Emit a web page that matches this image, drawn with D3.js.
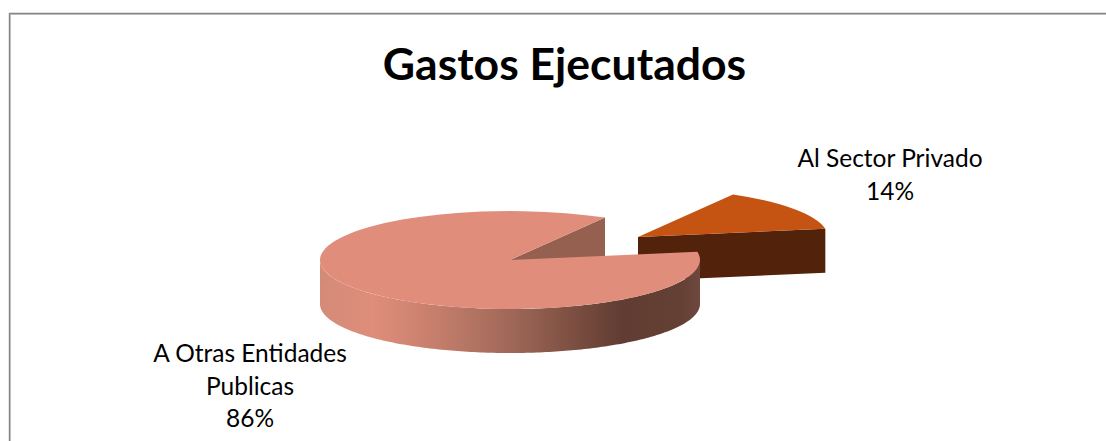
<!DOCTYPE html>
<html>
<head>
<meta charset="utf-8">
<script src="https://cdn.jsdelivr.net/npm/d3@7"></script>
<style>
  html, body { margin: 0; padding: 0; background: #fff; }
  svg { display: block; }
  text { font-family: Lato, "Open Sans", sans-serif; fill: #000; text-anchor: middle; }
</style>
</head>
<body>
<svg></svg>
<script>
var width = 1106;
var height = 441;

var title = "Gastos Ejecutados";
var categories = ["Al Sector Privado", "A Otras Entidades Publicas"];
var values = [14, 86];

var svg = d3.select("svg").attr("width", width).attr("height", height);
var defs = svg.append("defs");

// chart frame, only left and top show, the rest is cropped
svg.append("path")
    .attr("d", "M10.5,441V14.5H1106")
    .attr("fill", "none")
    .attr("stroke", "#cfcfcf")
    .attr("stroke-width", 1);
svg.append("path")
    .attr("d", "M9.5,441V13.5H1106")
    .attr("fill", "none")
    .attr("stroke", "#858585")
    .attr("stroke-width", 1.4);

var cx = 510, cy = 260, rx = 190, ry = 49, depth = 44;
var explodeX = 128, explodeY = -23;
var deg = Math.PI / 180;

var pie = d3.pie().sort(null).startAngle(30 * deg).endAngle(390 * deg);
var slices = pie(values);
var small = slices[0];
var big = slices[1];

function px(a) { return rx * Math.sin(a); }
function py(a) { return -ry * Math.cos(a); }

var arc = d3.arc().innerRadius(0).outerRadius(rx);

// top of a slice, circular arc squashed into the ellipse
function drawTop(g, d, fill) {
    g.append("path")
        .attr("d", arc(d))
        .attr("transform", "scale(1," + (ry / rx) + ")")
        .attr("fill", fill);
}

// flat cut face going down from the centre to the slice edge
function drawCut(g, a, fill) {
    g.append("path")
        .attr("d", d3.line()([
            [0, 0],
            [px(a), py(a)],
            [px(a), py(a) + depth],
            [0, depth]
        ]) + "Z")
        .attr("fill", fill);
}

var grad = defs.append("linearGradient")
    .attr("id", "wall")
    .attr("gradientUnits", "userSpaceOnUse")
    .attr("x1", -rx).attr("x2", rx)
    .attr("y1", 0).attr("y2", 0);
var stops = [
    [0, "#d38b78"], [0.14, "#e08d7b"], [0.3, "#c67f6c"], [0.5, "#a06858"],
    [0.72, "#70473a"], [0.8, "#603c32"], [0.95, "#644034"], [1, "#6e483c"]
];
grad.selectAll("stop").data(stops).enter().append("stop")
    .attr("offset", function(d) { return d[0]; })
    .attr("stop-color", function(d) { return d[1]; });

// small slice sits behind the big one
var gSmall = svg.append("g").attr("transform", "translate(" + (cx + explodeX) + "," + (cy + explodeY) + ")");
drawCut(gSmall, small.endAngle, "#52220a");
drawTop(gSmall, small, "#c55412");

// big slice
var gBig = svg.append("g").attr("transform", "translate(" + cx + "," + cy + ")");
drawCut(gBig, big.endAngle, "#966050");

// outer wall only shows on the front half of the ellipse
var angles = d3.range(90, 271, 1).map(function(a) { return a * deg; });
var outer = angles.map(function(a) { return [px(a), py(a)]; });
var lower = outer.map(function(p) { return [p[0], p[1] + depth]; }).reverse();
gBig.append("path")
    .attr("d", d3.line()(outer.concat(lower)) + "Z")
    .attr("fill", "url(#wall)");
drawTop(gBig, big, "#e08d7b");

svg.append("text")
    .attr("x", 564.5).attr("y", 80)
    .style("font-size", "44.5px")
    .style("font-weight", 700)
    .text(title);

var labelSmall = svg.append("text").style("font-size", "24.5px");
labelSmall.append("tspan").attr("x", 890).attr("y", 167).text(categories[0]);
labelSmall.append("tspan").attr("x", 890).attr("y", 200).text(values[0] + "%");

var labelBig = svg.append("text").style("font-size", "24.5px");
labelBig.append("tspan").attr("x", 250).attr("y", 362).text("A Otras Entidades");
labelBig.append("tspan").attr("x", 250).attr("y", 395).text("Publicas");
labelBig.append("tspan").attr("x", 250).attr("y", 427).text(values[1] + "%");
</script>
</body>
</html>
